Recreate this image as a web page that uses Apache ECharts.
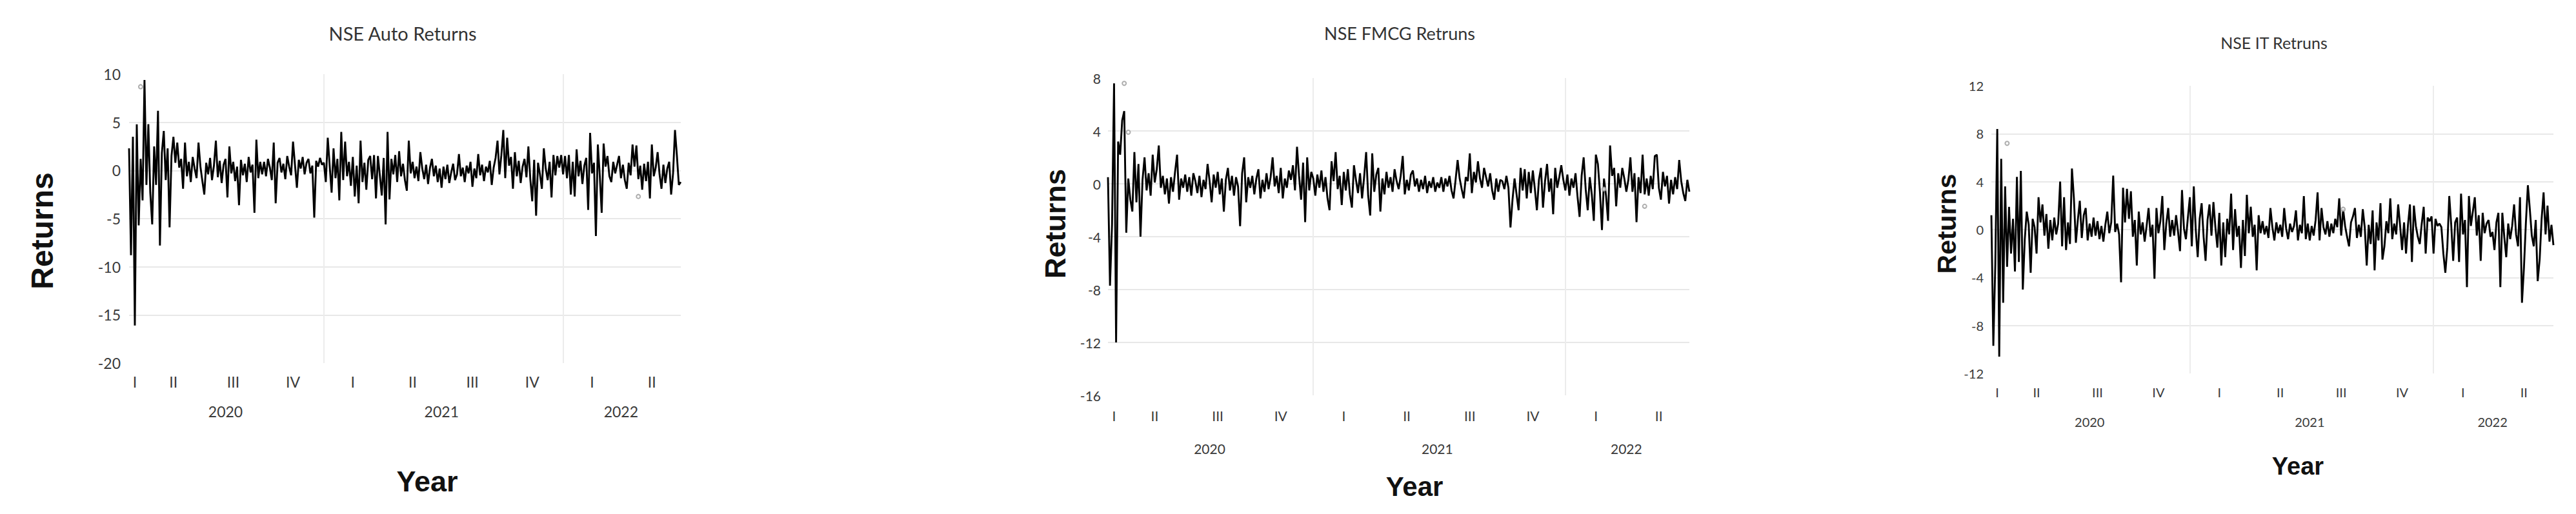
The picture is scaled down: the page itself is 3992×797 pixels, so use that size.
<!DOCTYPE html>
<html>
<head>
<meta charset="utf-8">
<title>NSE sector returns</title>
<script src="https://cdn.jsdelivr.net/npm/echarts@6/dist/echarts.min.js"></script>
<style>
  html, body { margin: 0; padding: 0; background: #fff; }
  #chart { width: 3992px; height: 797px; }
</style>
</head>
<body>
<div id="chart"></div>
<script>
// quarters shown on the x axis (first one is partial: data starts in March 2020)
const quarterNames = ['I', 'II', 'III', 'IV', 'I', 'II', 'III', 'IV', 'I', 'II'];
const quarterYears = ['2020', '2020', '2020', '2020', '2021', '2021', '2021', '2021', '2022', '2022'];
const pointsPerQuarter = [8, 31, 31, 31, 31, 31, 31, 31, 31, 31];

// returns (%), one group per quarter
const autoReturns = [
  2.3, -8.8, 3.5, -16.1, 4.8, -5.7, 1.2, -3.1,
  9.4, -1.5, 4.8, -2.3, -5.6, 2.5, -1.5, 6.2, -7.8, 1.8, 4.1, -1.0, 2.3, -5.9, 1.5, 3.5, 0.8, 2.9, 0.3, 1.2, -1.9, 2.9, -0.6, 0.9, -1.2, 1.4, 0.2, -0.8, 2.9, 0.4, -1.1,
  -2.5, 0.8, -0.4, 1.3, -1.0, 0.5, 3.1, -0.7, 1.0, -1.3, 0.6, 1.2, -2.8, 2.5, -0.3, 0.9, -1.1, 0.4, -3.6, 1.1, -0.5, 0.7, -1.2, 1.4, -0.2, 0.6, -4.4, 3.2, -0.8, 0.9, -0.4,
  0.9, -0.6, 1.2, 0.3, -1.0, 2.9, -3.4, 0.8, 1.3, -0.2, 0.7, -0.9, 1.5, 0.4, -0.5, 3.0, 0.6, -1.8, 1.1, 0.2, 1.4, -0.4, 0.8, 1.2, -0.3, 0.5, -4.9, 1.0, 0.4, 1.3, 0.6,
  0.8, -1.2, 3.4, 0.5, -2.3, 2.3, -0.8, 1.2, -3.1, 4.0, -1.0, 3.0, -0.6, 0.9, -1.6, 1.4, -2.7, 0.5, -3.4, 3.1, -1.2, 0.8, -2.0, 1.1, 1.5, -0.9, 1.6, -2.9, 1.5, -0.5, -2.6,
  1.3, -5.6, 4.0, -3.0, 1.2, -0.4, 1.6, -1.2, 2.0, -0.6, 0.7, -1.0, -2.1, 3.1, -0.3, 0.9, -0.8, 0.4, -1.1, 1.9, 0.2, -0.9, 0.6, -1.4, 0.3, 1.2, -0.6, 0.5, -1.2, 0.2, -1.8,
  0.4, -0.9, 0.6, -1.3, -0.2, 0.7, -1.0, -0.4, 1.7, -0.6, 0.3, -1.2, 0.5, -0.3, 0.9, -1.7, 0.2, -0.8, 1.7, -0.5, 0.6, -1.1, 0.4, -0.2, 1.0, -1.5, 0.3, 1.3, 3.1, -0.4, 1.6,
  4.2, -0.8, 3.4, 0.5, 1.4, -1.9, 1.9, -0.6, 1.0, -1.3, 0.4, 1.2, -0.7, 2.5, -0.9, -3.2, 1.1, -4.7, 0.8, -0.4, -1.9, 2.3, 0.2, -1.0, 0.9, -2.8, 1.6, -0.5, 1.5, 0.3, 1.6,
  -0.4, 1.5, -0.8, 1.6, -2.5, 0.9, -2.7, 2.2, -0.6, 1.0, -1.4, 0.5, 1.3, -4.1, 3.9, -0.3, 0.8, -6.8, 2.7, -0.5, -4.4, 2.8, 0.4, 1.5, -0.6, -1.2, 0.9, -0.3, 0.6, 1.5, -0.8,
  0.6, -1.0, -1.9, 0.8, -0.5, 2.7, 0.4, 2.6, -0.9, 0.5, -2.0, 0.7, -1.1, 0.9, -2.9, 2.7, -0.6, 0.3, 1.9, -0.4, -1.9, 0.6, -1.3, 0.2, 0.9, -2.5, -0.3, 4.2, 1.5, -1.5, -1.2
];
const fmcgReturns = [
  0.5, -7.7, -3.1, 7.6, -12.0, 3.2, 2.2, 4.8,
  5.5, -3.7, 0.4, -1.2, -2.1, 2.4, -1.4, 1.5, -4.0, 0.3, 2.0, -0.5, 0.8, -0.9, 2.2, 0.1, 1.1, 2.9, -0.3, 0.6, -0.8, 0.4, -1.5, 0.5, -0.6, 0.9, 2.2, -1.2, 0.4, -0.3, 0.7,
  -0.6, 0.5, -0.9, 0.8, 0.2, -0.7, 0.6, -1.0, 0.3, -0.4, 1.5, 0.2, -1.4, 0.7, -0.3, 0.9, -0.8, 0.4, -2.1, 0.3, 1.2, -0.5, 0.6, -0.9, 0.5, -0.2, -3.2, 0.8, 2.0, -1.4, 0.5,
  -0.3, 0.6, -0.8, 0.4, 1.1, -1.1, 0.3, -0.6, 0.8, -0.4, 0.5, 2.0, -0.2, 0.6, -0.7, 1.2, -1.1, 0.4, -0.3, 1.0, 0.3, 1.4, -0.5, 2.8, 0.6, -1.2, 1.6, -2.9, 2.0, -0.5, 0.9,
  0.4, -0.9, 0.7, -0.3, 1.0, -0.6, 0.5, -1.1, -2.0, 1.7, 0.2, 2.4, -0.4, 0.6, -1.6, 0.9, -0.5, 1.1, -0.8, -1.8, 1.4, 0.3, -0.7, 0.8, -1.1, 0.5, 2.4, -0.9, -2.4, 2.3, -0.6,
  0.7, 1.2, -2.1, 0.4, -0.8, 0.9, -0.3, 0.5, -0.6, 1.1, 0.2, -0.4, 0.6, 2.1, -0.8, 0.3, -0.5, 0.7, 1.0, -0.2, 0.4, -0.6, 0.3, -0.4, 0.6, -0.7, 0.2, -0.3, 0.5, -0.6, 0.1,
  -0.3, 0.5, -0.6, 0.4, -0.2, 0.6, -0.5, -1.1, 0.3, 1.8, 0.4, -0.4, -1.1, 0.5, 0.2, 2.3, -0.7, 0.9, 0.1, 1.7, 0.4, -0.3, 1.2, 0.5, -0.2, 0.8, -0.5, -1.2, 0.4, -0.6, 0.3,
  0.2, -0.4, 0.6, -0.3, -3.3, -1.2, 0.4, -0.8, -2.0, 1.2, -0.5, 1.1, -1.1, 0.9, -0.7, 1.0, -0.4, -2.0, 0.3, 1.2, -1.8, 0.2, 1.5, -0.6, 0.4, -2.3, 1.2, -0.3, 0.5, 1.4, 0.3,
  -0.5, 0.7, -0.9, 0.4, -0.3, 0.8, -1.0, -2.5, 0.6, 2.0, -0.4, -2.0, 0.5, -0.8, -2.8, 2.2, 1.5, -0.6, -3.5, 0.4, -0.9, -2.8, 2.9, 0.6, 1.2, -1.7, 0.8, -0.3, 1.2, 0.4, -0.6,
  0.3, 2.0, -0.6, 0.8, -2.9, 0.5, -0.7, 2.2, -0.8, 0.4, -0.9, 0.6, -0.4, 2.1, 2.2, -0.3, -1.2, 0.9, -0.2, 0.6, -1.5, 0.3, -0.8, 0.5, -0.4, 1.8, 0.2, -0.7, -1.3, 0.3, -0.6
];
const itReturns = [
  1.2, -9.7, -2.9, 8.4, -10.6, 5.9, -6.1, 3.6,
  -3.1, 1.9, -2.0, 0.9, -3.5, 4.4, -2.7, 4.9, -5.0, -0.8, 1.5, 0.4, -3.6, 0.9, 0.2, -2.0, 2.7, 0.6, 2.1, -0.5, 1.3, -1.6, 0.8, -0.9, 1.0, -0.4, 0.5, 4.0, -1.4, 2.7, -1.7,
  0.6, -1.2, 5.1, 2.6, -1.1, 0.8, 2.4, -0.7, 1.2, 1.8, -0.9, 0.5, -0.6, 1.0, -0.5, 0.7, -0.8, 0.3, -1.0, 0.4, 1.5, -0.3, 0.6, 4.5, -0.2, 0.5, -0.4, -4.4, 3.5, 0.6, 3.4,
  0.9, 3.2, -0.6, 0.8, -3.0, 1.5, -0.4, 0.6, -1.0, 0.3, 1.8, -0.6, 0.4, -4.1, 1.8, -0.3, 0.7, 2.8, -1.7, 0.5, 1.8, -0.6, 0.8, -0.5, 1.2, -0.2, -1.8, 3.3, 0.1, -0.8, 1.0,
  2.7, -1.4, 3.6, 0.0, -2.3, 0.9, 2.2, -0.6, -2.6, 0.8, 2.1, -0.5, 2.3, 0.2, -1.5, 1.4, -3.0, 0.6, -2.3, 0.9, -0.4, 3.0, -1.7, 1.7, -0.6, 0.3, -3.2, 0.8, -2.2, 2.9, -0.3,
  1.9, -0.6, 0.4, -3.4, 1.2, -0.3, 0.7, -0.4, 0.3, -0.7, 1.8, 0.2, -0.9, 0.6, -0.3, 0.4, -0.6, 1.8, 0.1, -0.8, 0.5, -0.2, 0.3, 1.6, -0.9, 0.4, -0.3, 2.8, -0.8, 0.5, -0.9,
  0.3, -0.5, 0.8, 3.1, -0.9, 1.8, 0.2, -0.4, 0.7, -0.6, 0.5, -0.3, 0.9, 0.2, 2.6, -0.5, 1.7, 0.3, -0.6, -1.4, 0.6, 1.1, 1.8, -0.7, 0.4, -0.6, 1.7, 0.2, -3.0, 0.4, -1.2,
  1.6, -3.4, 0.6, -0.9, 2.2, -2.5, -1.4, 0.7, -0.3, 2.6, -0.8, 0.5, -0.4, 2.1, 0.3, -1.7, 0.6, -2.0, 0.4, 2.1, -2.7, 2.0, 0.3, -0.6, -1.2, 0.5, 1.9, -2.0, 1.0, 0.7, 1.1,
  -2.0, 0.9, 0.3, 0.5, 0.2, -2.0, -3.6, -1.5, 2.8, 0.4, -2.6, 0.6, 1.0, -2.7, 3.0, -0.4, 0.8, -4.8, 2.8, 0.3, 1.5, 2.7, -0.5, 1.2, -2.6, 1.4, -0.3, 0.5, 0.8, -0.6, -0.2,
  -1.7, 0.6, 1.4, -4.8, 1.4, -0.6, -2.3, 0.5, -0.8, 0.3, 2.1, -0.4, -1.4, 2.7, -6.1, -3.2, 0.6, 3.7, 1.7, -0.5, -1.4, 0.8, -4.3, -2.5, 0.9, 3.1, -0.4, 2.0, -1.0, 0.4, -1.3
];

// small grey circles visible on the plots: [point index, return]
const autoMarkers = [[6, 8.7], [264, -2.7]];
const fmcgMarkers = [[8, 7.6], [10, 3.9], [244, -0.4], [264, -1.7]];
const itMarkers = [[8, 7.2], [179, 1.7]];

// category axis: one entry per trading point, tagged with year and quarter
const categories = [];
const quarterMid = new Set();
const yearMid = new Set();
const yearStart = new Set();
const yearSpan = {};
let pos = 0;
pointsPerQuarter.forEach((n, q) => {
  const year = quarterYears[q];
  quarterMid.add(pos + Math.floor((n - 1) / 2));
  if (!yearSpan[year]) yearSpan[year] = [pos, pos];
  for (let k = 0; k < n; k++) {
    categories.push(year + ' ' + quarterNames[q] + ' ' + (k + 1));
  }
  pos += n;
  yearSpan[year][1] = pos - 1;
});
Object.keys(yearSpan).forEach((year, i) => {
  const [a, b] = yearSpan[year];
  yearMid.add(Math.floor((a + b) / 2));
  if (i > 0) yearStart.add(a);
});

const panels = [
  {
    title: 'NSE Auto Returns', data: autoReturns, markers: autoMarkers,
    min: -20, max: 10, interval: 5,
    grid: { left: 200, top: 115, width: 855, height: 448 },
    scale: 1, labelMargin: 13, qMargin: 17, yearOffset: 46,
    titlePos: [624, 51], returnsPos: [65, 358], yearPos: [662, 746],
  },
  {
    title: 'NSE FMCG Retruns', data: fmcgReturns, markers: fmcgMarkers,
    min: -16, max: 8, interval: 4,
    grid: { left: 1717, top: 121, width: 901, height: 492 },
    scale: 0.93, labelMargin: 11, qMargin: 21, yearOffset: 51,
    titlePos: [2169, 51], returnsPos: [1635, 347], yearPos: [2192, 754],
  },
  {
    title: 'NSE IT Retruns', data: itReturns, markers: itMarkers,
    min: -12, max: 12, interval: 4,
    grid: { left: 3086, top: 133, width: 871, height: 446 },
    scale: 0.85, labelMargin: 12, qMargin: 19, yearOffset: 46,
    titlePos: [3524, 66], returnsPos: [3017, 347], yearPos: [3561, 723],
  },
];

const tickFont = 'Lato, "Open Sans", sans-serif';
const boldFont = '"Liberation Sans", Arial, sans-serif';
const textColor = '#3a3a3a';
const gridColor = '#e8e8e8';

const option = {
  backgroundColor: '#fff',
  animation: false,
  title: [],
  grid: [],
  xAxis: [],
  yAxis: [],
  series: [],
  graphic: [],
};

panels.forEach((p, i) => {
  const tickSize = Math.round(23 * p.scale);

  option.grid.push(p.grid);

  option.title.push({
    text: p.title,
    left: p.titlePos[0],
    top: p.titlePos[1],
    textAlign: 'center',
    textVerticalAlign: 'middle',
    padding: 0,
    textStyle: {
      fontFamily: tickFont,
      fontWeight: 'normal',
      fontSize: Math.round(29 * p.scale),
      color: '#333',
    },
  });

  // quarter labels (I, II, III, IV) and the year separators
  option.xAxis.push({
    type: 'category',
    gridIndex: i,
    data: categories,
    boundaryGap: false,
    axisLine: { show: false },
    axisTick: { show: false },
    axisLabel: {
      interval: (index) => quarterMid.has(index),
      formatter: (value) => value.split(' ')[1],
      margin: p.qMargin,
      fontFamily: tickFont,
      fontSize: tickSize,
      color: textColor,
    },
    splitLine: {
      show: true,
      interval: (index) => yearStart.has(index),
      lineStyle: { color: '#ececec', width: 2 },
    },
  });

  // year labels below the quarters
  option.xAxis.push({
    type: 'category',
    gridIndex: i,
    data: categories,
    boundaryGap: false,
    position: 'bottom',
    offset: p.yearOffset,
    axisLine: { show: false },
    axisTick: { show: false },
    splitLine: { show: false },
    axisLabel: {
      interval: (index) => yearMid.has(index),
      formatter: (value) => value.split(' ')[0],
      margin: p.qMargin,
      fontFamily: tickFont,
      fontSize: tickSize,
      color: textColor,
    },
  });

  option.yAxis.push({
    type: 'value',
    gridIndex: i,
    min: p.min,
    max: p.max,
    interval: p.interval,
    axisLine: { show: false },
    axisTick: { show: false },
    axisLabel: {
      margin: p.labelMargin,
      fontFamily: tickFont,
      fontSize: tickSize,
      color: textColor,
    },
    splitLine: {
      show: true,
      showMinLine: false,
      showMaxLine: false,
      lineStyle: { color: gridColor, width: 2 },
    },
  });

  option.series.push({
    type: 'line',
    name: p.title,
    xAxisIndex: i * 2,
    yAxisIndex: i,
    data: p.data,
    symbol: 'none',
    lineStyle: { color: '#000', width: 2.9 },
    z: 3,
  });

  option.series.push({
    type: 'scatter',
    xAxisIndex: i * 2,
    yAxisIndex: i,
    data: p.markers,
    symbol: 'emptyCircle',
    symbolSize: 6,
    itemStyle: { color: '#999', borderWidth: 1.2 },
    z: 4,
  });

  option.graphic.push({
    type: 'text',
    x: p.returnsPos[0],
    y: p.returnsPos[1],
    rotation: Math.PI / 2,
    style: {
      text: 'Returns',
      font: `bold ${Math.round(48 * p.scale)}px ${boldFont}`,
      fill: '#111',
      align: 'center',
      verticalAlign: 'middle',
    },
  });

  option.graphic.push({
    type: 'text',
    x: p.yearPos[0],
    y: p.yearPos[1],
    style: {
      text: 'Year',
      font: `bold ${Math.round(45 * p.scale)}px ${boldFont}`,
      fill: '#111',
      align: 'center',
      verticalAlign: 'middle',
    },
  });
});

const chart = echarts.init(document.getElementById('chart'), null, { renderer: 'svg' });
chart.setOption(option);
</script>
</body>
</html>
